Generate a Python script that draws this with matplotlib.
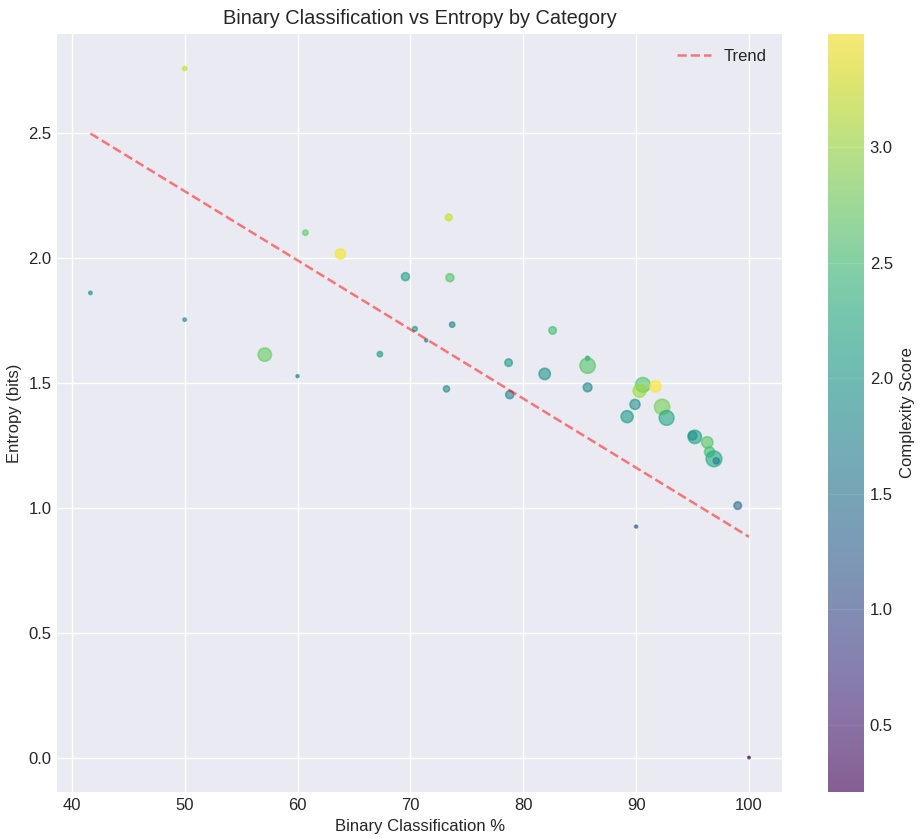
import numpy as np
import matplotlib
matplotlib.use("Agg")
from matplotlib import pyplot as plt

# values
binary_pct = [50.0, 60.7, 63.8, 41.65, 50.0, 57.1, 67.3, 60.0,
              73.4, 69.56, 73.5, 73.7, 70.4, 71.4, 82.6, 78.7, 81.9,
              85.7, 85.7, 73.2, 78.8, 85.7, 90.6, 90.3, 91.7, 89.9,
              89.2, 92.3, 92.7, 95.2, 95.0, 96.3, 96.5, 96.9, 97.1,
              99.0, 90.0, 100.0]
entropy = [2.757, 2.10, 2.015, 1.859, 1.752, 1.612, 1.614, 1.526,
           2.161, 1.924, 1.92, 1.732, 1.715, 1.669, 1.709, 1.58, 1.535,
           1.597, 1.568, 1.475, 1.452, 1.481, 1.491, 1.467, 1.485, 1.413,
           1.364, 1.403, 1.359, 1.283, 1.288, 1.261, 1.223, 1.195, 1.187,
           1.008, 0.924, 0.0]
complexity = [3.2, 2.7, 3.45, 1.9, 1.9, 2.7, 2.0, 1.6,
              3.2, 2.1, 2.6, 1.7, 2.0, 1.7, 2.5, 2.0, 1.9,
              1.9, 2.6, 1.8, 1.7, 1.8, 2.6, 3.0, 3.49, 1.9,
              2.0, 2.8, 2.2, 2.1, 1.9, 2.6, 2.5, 2.2, 1.6,
              1.4, 1.1, 0.21]
point_size = [6, 10, 36, 4, 4, 64, 10, 3,
              16, 23, 23, 10, 8, 3, 20, 20, 46,
              6, 84, 13, 23, 27, 78, 58, 46, 36,
              52, 84, 78, 64, 27, 46, 36, 88, 13,
              20, 3, 2]

# trend fit as drawn in the reference (slope, intercept)
trend_coef = [-0.02766, 3.649]

plt.style.use('seaborn-v0_8-darkgrid')

fig = plt.figure(figsize=(921 / 120, 838 / 120), dpi=120)
ax = fig.add_axes([0.0624, 0.0549, 0.7866, 0.9045])
cax = fig.add_axes([0.899, 0.0549, 0.039, 0.9045])

x = np.array(binary_pct)
y = np.array(entropy)
sc = ax.scatter(x, y, c=complexity, s=point_size, cmap='viridis', alpha=0.6)

# linear trend over the x range
xs = np.linspace(x.min(), x.max(), 100)
ax.plot(xs, np.polyval(trend_coef, xs), 'r--', alpha=0.5, linewidth=1.5, label='Trend')

ax.set_xlabel('Binary Classification %')
ax.set_ylabel('Entropy (bits)')
ax.set_title('Binary Classification vs Entropy by Category')
ax.legend(loc='upper right')

cbar = fig.colorbar(sc, cax=cax)
cbar.set_label('Complexity Score')

fig.savefig('out.png', dpi=120)
